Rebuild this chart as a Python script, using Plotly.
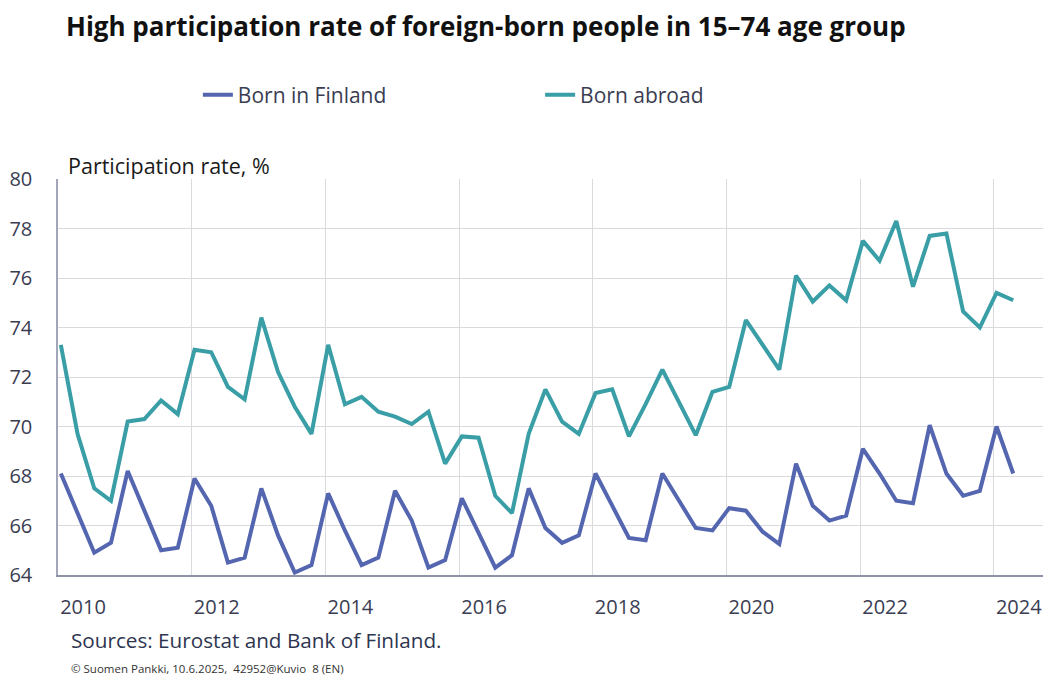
import plotly.graph_objects as go

# Quarterly observations (index 0 = first quarter shown)
born_in_finland = [68.1, 66.5, 64.9, 65.3, 68.2, 66.6, 65.0, 65.1, 67.9, 66.8, 64.5, 64.7,
                   67.5, 65.6, 64.1, 64.4, 67.3, 65.8, 64.4, 64.7, 67.4, 66.2, 64.3, 64.6,
                   67.1, 65.7, 64.3, 64.8, 67.5, 65.9, 65.3, 65.6, 68.1, 66.8, 65.5, 65.4,
                   68.1, 67.0, 65.9, 65.8, 66.7, 66.6, 65.75, 65.25, 68.5, 66.8, 66.2, 66.4,
                   69.1, 68.1, 67.0, 66.9, 70.05, 68.1, 67.2, 67.4, 70.0, 68.1]
born_abroad = [73.3, 69.7, 67.5, 67.0, 70.2, 70.3, 71.05, 70.5, 73.1, 73.0, 71.6, 71.1,
               74.4, 72.2, 70.8, 69.7, 73.3, 70.9, 71.2, 70.6, 70.4, 70.1, 70.6, 68.5,
               69.6, 69.55, 67.2, 66.5, 69.7, 71.5, 70.2, 69.7, 71.35, 71.5, 69.6, 70.9,
               72.3, 71.0, 69.65, 71.4, 71.6, 74.3, 73.3, 72.3, 76.1, 75.05, 75.7, 75.1,
               77.5, 76.7, 78.3, 75.65, 77.7, 77.8, 74.65, 74.0, 75.4, 75.1]
year_labels = ["2010", "2012", "2014", "2016", "2018", "2020", "2022", "2024"]
quarter_index = list(range(len(born_in_finland)))

FONT = "Open Sans"
TXT = "#3a3d52"
C_FIN = "#5566b0"
C_ABR = "#3a9ea6"

fig = go.Figure()
fig.add_trace(go.Scatter(x=quarter_index, y=born_in_finland, mode="lines",
                         name="Born in Finland", line=dict(color=C_FIN, width=4),
                         legend="legend"))
fig.add_trace(go.Scatter(x=quarter_index, y=born_abroad, mode="lines",
                         name="Born abroad", line=dict(color=C_ABR, width=4),
                         legend="legend2"))

group_edges = [8 * k - 0.17 for k in range(len(year_labels))]
label_pos = [e + 1.5 for e in group_edges]

fig.update_layout(
    width=1043, height=669,
    margin=dict(l=50, r=1, t=171, b=102),
    paper_bgcolor="white", plot_bgcolor="white",
    font=dict(family=FONT, size=20, color=TXT),
    showlegend=True,
    legend=dict(orientation="h", x=0.141, y=1.212, xanchor="left", yanchor="middle",
                font=dict(size=21, color=TXT), bgcolor="rgba(0,0,0,0)"),
    legend2=dict(orientation="h", x=0.486, y=1.212, xanchor="left", yanchor="middle",
                 font=dict(size=21, color=TXT), bgcolor="rgba(0,0,0,0)"),
    xaxis=dict(range=[-0.17, 59.2], tickmode="array", tickvals=label_pos,
               ticktext=year_labels, showgrid=False, ticks="", zeroline=False,
               showline=True, linecolor="#8f93a8", linewidth=1.5,
               ticklabelstandoff=13,
               tickfont=dict(size=20, color=TXT),
               minor=dict(tickmode="array", tickvals=group_edges[1:], showgrid=True,
                          gridcolor="#d9d9de", gridwidth=1, ticks="")),
    yaxis=dict(range=[64, 80], dtick=2, tick0=64, showgrid=True, gridcolor="#d9d9de",
               gridwidth=1, zeroline=False, showline=True, linecolor="#a3a6b8",
               linewidth=1.5, ticks="", ticklabelstandoff=20,
               tickfont=dict(size=20, color=TXT)),
    annotations=[
        dict(text="<b>High participation rate of foreign-born people in 15–74 age group</b>",
             xref="paper", yref="paper", x=0.006, y=1.386, xanchor="left", yanchor="middle",
             showarrow=False, font=dict(size=26, color="#111111", family=FONT)),
        dict(text="Participation rate, %", xref="paper", yref="paper", x=0.008, y=1.035,
             xanchor="left", yanchor="middle", showarrow=False,
             font=dict(size=21.5, color="#1a1a1a", family=FONT)),
        dict(text="Sources: Eurostat and Bank of Finland.", xref="paper", yref="paper",
             x=0.011, y=-0.164, xanchor="left", yanchor="middle", showarrow=False,
             font=dict(size=20.7, color="#2e3550", family=FONT)),
        dict(text="© Suomen Pankki, 10.6.2025,  42952@Kuvio  8 (EN)", xref="paper",
             yref="paper", x=0.011, y=-0.235, xanchor="left", yanchor="middle",
             showarrow=False, font=dict(size=11.5, color="#333333", family=FONT)),
    ],
)

fig.write_html("out.html")
